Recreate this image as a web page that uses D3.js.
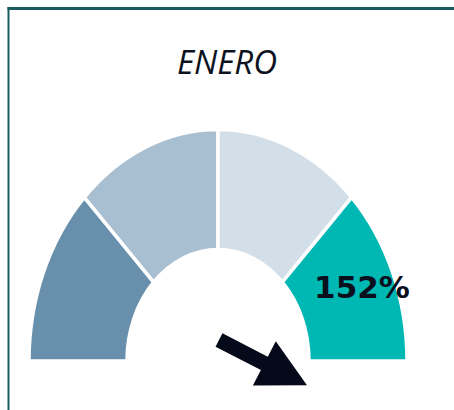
<!DOCTYPE html>
<head>
    <meta charset="utf-8">
    <title>Gauge ENERO</title>
    <script src="https://d3js.org/d3.v7.min.js"></script>
    <style>
        body{
            margin: 0;
            background: #ffffff;
        }
        text.title{
            font-family: "Open Sans", sans-serif;
            font-style: italic;
            font-size: 33px;
            fill: #0d1220;
        }
        text.valueLabel{
            font-family: "DejaVu Sans", Verdana, sans-serif;
            font-weight: 700;
            font-size: 31px;
            fill: #0a0f1e;
        }
    </style>
</head>
<body>
<script>
    // data
    const month = "ENERO";
    const bandLimits = [0, 33, 66, 99, 132];
    const bandColours = ["#6890ad", "#a8bed1", "#d2dee8", "#00b8b3"];
    const value = 152;

    const width = 454, height = 410;

    var svg = d3.select("body").append("svg")
        .attr("width", width)
        .attr("height", height);

    // frame
    svg.append("line")
        .attr("x1", 8.5).attr("x2", 8.5)
        .attr("y1", 7).attr("y2", height)
        .style("stroke", "#1b5c63")
        .style("stroke-width", 2);
    svg.append("line")
        .attr("x1", 7.5).attr("x2", width)
        .attr("y1", 8.5).attr("y2", 8.5)
        .style("stroke", "#1b5c63")
        .style("stroke-width", 3);

    svg.append("text")
        .attr("class", "title")
        .attr("x", 227)
        .attr("y", 74)
        .style("text-anchor", "middle")
        .text(month);

    const cx = 218, cy = 361;
    const outerR = 189, innerR = 91, stretch = 1.225;

    // angle scale: 0 at left, max at right
    let angle = d3.scaleLinear()
        .domain([bandLimits[0], bandLimits[bandLimits.length - 1]])
        .range([-Math.PI / 2, Math.PI / 2]);

    let bands = d3.pairs(bandLimits).map((p, i) => ({from: p[0], to: p[1], colour: bandColours[i]}));

    let arc = d3.arc()
        .innerRadius(innerR)
        .outerRadius(outerR)
        .startAngle(d => angle(d.from))
        .endAngle(d => angle(d.to));

    let gauge = svg.append("g")
        .attr("transform", `translate(${cx},${cy}) scale(1,${stretch})`);

    gauge.selectAll("path.band")
        .data(bands)
        .enter()
        .append("path")
        .attr("class", "band")
        .attr("d", arc)
        .style("fill", d => d.colour)
        .style("stroke", "#ffffff")
        .style("stroke-width", 3.5)
        .attr("vector-effect", "non-scaling-stroke");

    // value label on the last band
    svg.append("text")
        .attr("class", "valueLabel")
        .attr("x", 362)
        .attr("y", 298)
        .style("text-anchor", "middle")
        .text(value + "%");

    // needle arrow
    const a = angle(value) - Math.PI / 2; // screen angle
    const shaftLen = 51, shaftW = 15, headLen = 48, headW = 50;
    let arrow = svg.append("g")
        .attr("transform", `translate(${cx + 1},${cy - 21}) rotate(${a * 180 / Math.PI})`);
    arrow.append("path")
        .attr("d", d3.line()([
            [0, -shaftW / 2], [shaftLen, -shaftW / 2], [shaftLen, -headW / 2],
            [shaftLen + headLen, 0],
            [shaftLen, headW / 2], [shaftLen, shaftW / 2], [0, shaftW / 2]
        ]) + "Z")
        .style("fill", "#050a1a");
</script>
</body>
